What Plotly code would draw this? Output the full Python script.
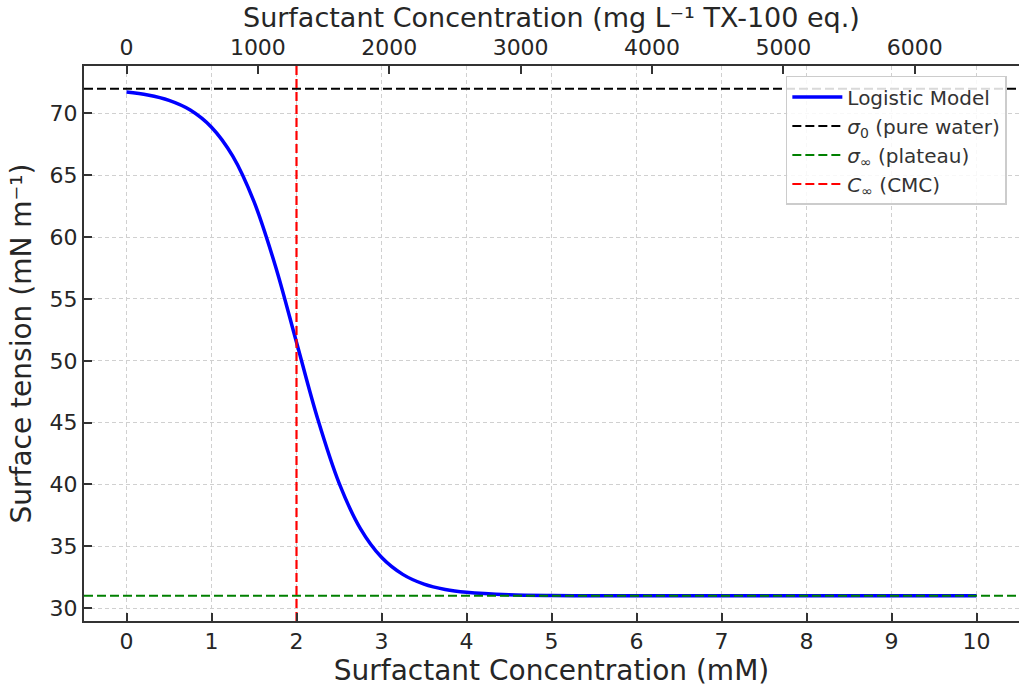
import plotly.graph_objects as go

# Data
conc_mM = [0, 0.25, 0.5, 0.75, 1, 1.25, 1.5, 1.75, 2, 2.25, 2.5, 2.75, 3, 3.25, 3.5,
           3.75, 4, 4.5, 5, 5.5, 6, 7, 8, 9, 10]
tension = [71.73, 71.49, 71.06, 70.28, 68.89, 66.55, 62.87, 57.71, 51.5, 45.29, 40.13,
           36.45, 34.11, 32.73, 31.94, 31.51, 31.28, 31.08, 31.02, 31.01, 31.0, 31.0,
           31.0, 31.0, 31.0]
sigma0 = 72.0
sigma_inf = 31.0
c_cmc = 2.0
mw_tx100 = 647.0  # mg per mmol, secondary axis conversion
x_range = [-0.5, 10.5]
y_range = [28.96, 73.84]
x_ticks = list(range(0, 11))
y_ticks = [30, 35, 40, 45, 50, 55, 60, 65, 70]
top_ticks = [0, 1000, 2000, 3000, 4000, 5000, 6000]

fig = go.Figure()
fig.add_trace(go.Scatter(x=conc_mM, y=tension, mode="lines", line=dict(color="#0000ff", width=3.5, shape="spline"),
                         name="Logistic Model"))
fig.add_trace(go.Scatter(x=x_range, y=[sigma0, sigma0], mode="lines",
                         line=dict(color="black", width=2.2, dash="9px,4px"),
                         name="<i>σ</i><sub>0</sub> (pure water)"))
fig.add_trace(go.Scatter(x=x_range, y=[sigma_inf, sigma_inf], mode="lines",
                         line=dict(color="#008000", width=2.2, dash="9px,4px"),
                         name="<i>σ</i><sub>∞</sub> (plateau)"))
fig.add_trace(go.Scatter(x=[c_cmc, c_cmc], y=y_range, mode="lines",
                         line=dict(color="#ff0000", width=2.2, dash="9px,4px"),
                         name="<i>C</i><sub>∞</sub> (CMC)"))
# invisible trace to carry the top (mg/L) axis
fig.add_trace(go.Scatter(x=[x_range[0] * mw_tx100, x_range[1] * mw_tx100], y=[sigma0, sigma0],
                         xaxis="x2", mode="lines", line=dict(width=0), opacity=0,
                         showlegend=False, hoverinfo="skip"))

axis_font = dict(family="DejaVu Sans", size=22, color="#262626")
title_font = dict(family="DejaVu Sans", size=28, color="#262626")
top_title_font = dict(family="DejaVu Sans", size=27, color="#262626")

fig.update_layout(
    width=1022, height=693,
    margin=dict(l=84, r=3, t=66, b=72),
    paper_bgcolor="white", plot_bgcolor="white",
    font=dict(family="DejaVu Sans", color="#262626"),
    showlegend=True,
    legend=dict(x=0.987, y=0.982, xanchor="right", yanchor="top",
                bgcolor="rgba(255,255,255,0.85)", bordercolor="#cccccc", borderwidth=1.5,
                font=dict(family="DejaVu Sans", size=20, color="#333333"),
                itemwidth=50, tracegroupgap=2),
    xaxis=dict(range=x_range, tickmode="array", tickvals=x_ticks, automargin=False,
               ticks="inside", ticklen=8, tickwidth=1.5, tickcolor="#333333",
               showline=True, linecolor="#333333", linewidth=2, mirror=False,
               showgrid=True, gridcolor="#d0d0d0", gridwidth=1, griddash="4px,3px",
               zeroline=False, tickfont=axis_font,
               title=dict(text="Surfactant Concentration (mM)", font=title_font, standoff=6)),
    xaxis2=dict(range=[x_range[0] * mw_tx100, x_range[1] * mw_tx100], overlaying="x", side="top",
                tickmode="array", tickvals=top_ticks, automargin=False,
                ticks="inside", ticklen=8, tickwidth=1.5, tickcolor="#333333",
                showline=True, linecolor="#333333", linewidth=2,
                showgrid=False, zeroline=False, tickfont=axis_font),
    yaxis=dict(range=y_range, tickmode="array", tickvals=y_ticks, automargin=False,
               ticks="inside", ticklen=8, tickwidth=1.5, tickcolor="#333333",
               showline=True, linecolor="#333333", linewidth=2, mirror=False,
               showgrid=True, gridcolor="#d0d0d0", gridwidth=1, griddash="4px,3px",
               zeroline=False, tickfont=axis_font,
               title=dict(text="Surface tension (mN m⁻¹)", font=title_font, standoff=10)),
    annotations=[dict(text="Surfactant Concentration (mg L⁻¹ TX-100 eq.)", xref="paper", yref="paper",
                      x=0.5, y=1, yshift=49, xanchor="center", yanchor="middle",
                      showarrow=False, font=top_title_font)],
)

fig.write_html("out.html", config={"displayModeBar": False},
               post_script="document.body.style.margin='0';")
